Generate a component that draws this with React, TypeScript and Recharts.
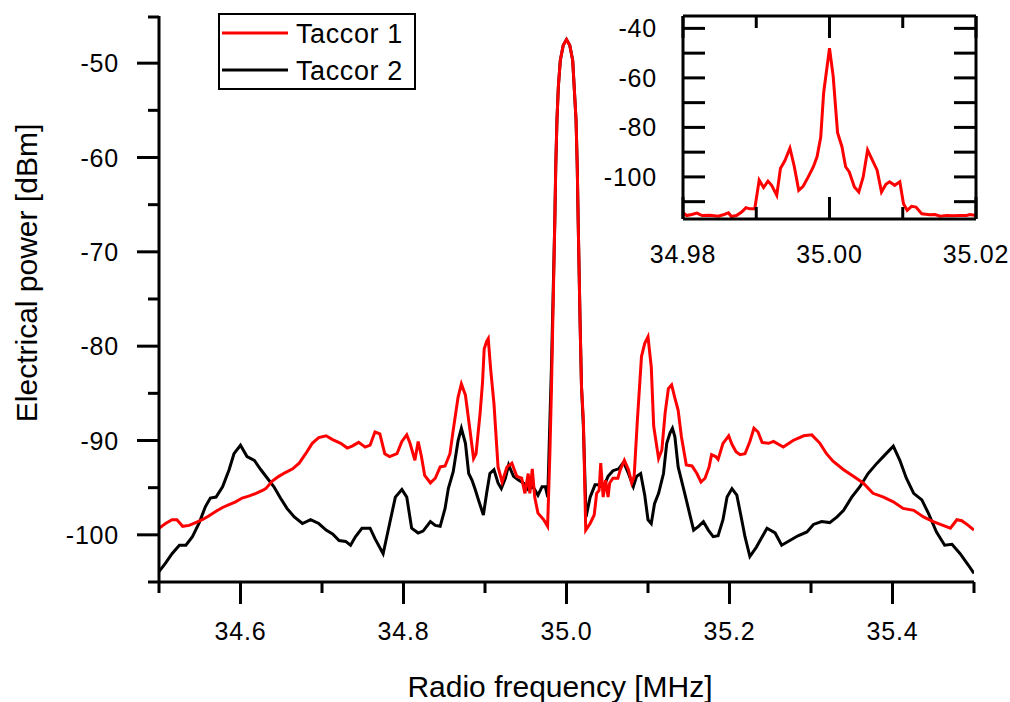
import React from 'react';
import { LineChart, Line, XAxis, YAxis, Legend } from 'recharts';

// Taccor 1 (red) and Taccor 2 (black), frequency in MHz, power in dBm
const taccor1Freq = [
  34.5, 34.508, 34.516, 34.522, 34.529, 34.537, 34.545, 34.553, 34.561, 34.57, 34.578, 34.586, 34.594,
  34.602, 34.61, 34.619, 34.627, 34.631, 34.639, 34.647, 34.655, 34.664, 34.672, 34.68, 34.688, 34.696,
  34.705, 34.713, 34.723, 34.731, 34.737, 34.745, 34.753, 34.759, 34.765, 34.771, 34.777, 34.783, 34.792,
  34.798, 34.804, 34.808, 34.814, 34.818, 34.822, 34.826, 34.833, 34.839, 34.845, 34.851, 34.857, 34.861,
  34.867, 34.871, 34.876, 34.882, 34.886, 34.889, 34.894, 34.897, 34.899, 34.902, 34.904, 34.907, 34.911,
  34.916, 34.921, 34.927, 34.933, 34.939, 34.945, 34.949, 34.953, 34.955, 34.958, 34.961, 34.965, 34.972,
  34.9768, 34.9796, 34.9816, 34.9857, 34.9868, 34.9883, 34.99, 34.9924, 34.996, 35.0, 35.004, 35.0076,
  35.0117, 35.0132, 35.0143, 35.0166, 35.0184, 35.0207, 35.0236, 35.029, 35.034, 35.037, 35.04, 35.042,
  35.045, 35.048, 35.051, 35.053, 35.057, 35.063, 35.066, 35.071, 35.076, 35.08, 35.083, 35.087, 35.092,
  35.096, 35.1, 35.104, 35.107, 35.113, 35.117, 35.121, 35.125, 35.129, 35.133, 35.137, 35.141, 35.147,
  35.154, 35.16, 35.165, 35.17, 35.175, 35.178, 35.183, 35.186, 35.192, 35.199, 35.203, 35.208, 35.213,
  35.219, 35.225, 35.23, 35.235, 35.24, 35.248, 35.254, 35.266, 35.278, 35.291, 35.301, 35.311, 35.319,
  35.327, 35.34, 35.352, 35.364, 35.376, 35.389, 35.401, 35.413, 35.426, 35.438, 35.45, 35.462, 35.471,
  35.479, 35.485, 35.493, 35.5,
];
const taccor1Power = [
  -99.3, -98.8, -98.4, -98.4, -99.1, -99.0, -98.7, -98.4, -98.0, -97.5, -97.1, -96.8, -96.5,
  -96.1, -95.9, -95.6, -95.3, -95.1, -94.3, -93.8, -93.4, -93.0, -92.4, -91.4, -90.3, -89.7,
  -89.5, -89.9, -90.3, -90.8, -90.6, -90.2, -90.7, -90.5, -89.1, -89.3, -91.4, -91.7, -91.4,
  -90.1, -89.4, -90.3, -92.1, -90.1, -91.7, -93.7, -94.5, -94.0, -92.8, -92.7, -91.4, -88.9,
  -85.4, -84.0, -85.2, -89.2, -91.9, -91.4, -87.1, -83.8, -80.3, -79.5, -79.2, -82.5, -86.1,
  -92.8, -94.4, -92.8, -92.4, -93.8, -94.0, -95.6, -93.5, -95.6, -93.0, -96.0, -97.7, -98.4,
  -99.1, -91.4, -84.3, -66.6, -61.0, -56.0, -52.5, -49.7, -48.1, -47.5, -48.1, -49.7,
  -56.0, -61.0, -66.6, -77.2, -84.3, -87.8, -99.5, -98.8, -97.9, -95.6, -95.3, -92.4,
  -96.0, -94.2, -96.0, -94.5, -94.0, -94.0, -93.1, -92.1, -93.1, -94.5, -93.8, -87.8, -81.1,
  -79.7, -79.0, -82.2, -88.5, -91.9, -91.0, -87.1, -84.5, -84.1, -85.5, -86.8, -89.6, -92.6,
  -92.7, -93.5, -94.4, -94.0, -92.8, -91.5, -91.7, -92.0, -90.3, -89.5, -90.4, -91.2, -91.5,
  -91.4, -90.1, -88.7, -89.1, -90.2, -90.3, -90.1, -90.7, -90.0, -89.5, -89.4, -90.3, -91.4,
  -92.2, -93.1, -93.8, -94.5, -95.6, -96.0, -96.5, -97.2, -97.4, -98.1, -98.6, -99.0, -99.3,
  -98.4, -98.5, -99.0, -99.5,
];

const taccor2Freq = [
  34.5, 34.508, 34.516, 34.525, 34.533, 34.541, 34.549, 34.557, 34.563, 34.57, 34.578, 34.586, 34.592,
  34.6, 34.608, 34.617, 34.625, 34.633, 34.641, 34.649, 34.657, 34.666, 34.676, 34.686, 34.696, 34.705,
  34.713, 34.721, 34.729, 34.735, 34.741, 34.749, 34.759, 34.765, 34.775, 34.783, 34.79, 34.798, 34.804,
  34.81, 34.818, 34.824, 34.833, 34.839, 34.845, 34.851, 34.855, 34.861, 34.867, 34.871, 34.876, 34.88,
  34.884, 34.888, 34.892, 34.898, 34.902, 34.906, 34.911, 34.916, 34.92, 34.925, 34.929, 34.935, 34.941,
  34.947, 34.953, 34.959, 34.965, 34.97, 34.974, 34.977, 34.9796, 34.9816, 34.9857, 34.9868, 34.9883,
  34.99, 34.9924, 34.996, 35.0, 35.004, 35.0076, 35.0117, 35.0132, 35.0143, 35.0166, 35.0184, 35.0207,
  35.024, 35.029, 35.035, 35.039, 35.045, 35.051, 35.057, 35.064, 35.07, 35.076, 35.082, 35.086, 35.091,
  35.096, 35.1, 35.104, 35.108, 35.113, 35.119, 35.123, 35.127, 35.13, 35.133, 35.137, 35.143, 35.147,
  35.152, 35.156, 35.162, 35.168, 35.174, 35.18, 35.186, 35.192, 35.197, 35.203, 35.209, 35.215, 35.219,
  35.225, 35.233, 35.246, 35.256, 35.264, 35.274, 35.284, 35.295, 35.303, 35.313, 35.323, 35.332, 35.34,
  35.35, 35.36, 35.37, 35.381, 35.391, 35.401, 35.409, 35.417, 35.426, 35.436, 35.444, 35.454, 35.464,
  35.473, 35.483, 35.493, 35.5,
];
const taccor2Power = [
  -103.9, -103.0, -102.0, -101.1, -101.1, -100.2, -98.8, -97.0, -96.1, -96.0, -94.9, -93.1, -91.4,
  -90.5, -91.7, -92.1, -93.1, -94.0, -94.9, -96.1, -97.2, -98.1, -98.8, -98.4, -98.8, -99.5,
  -99.9, -100.6, -100.7, -101.1, -100.2, -99.3, -99.3, -100.4, -102.0, -98.8, -96.0, -95.2, -96.0,
  -99.3, -99.8, -99.6, -98.6, -99.0, -99.1, -97.2, -95.1, -93.3, -90.0, -88.7, -90.3, -93.5,
  -94.2, -95.2, -96.3, -97.9, -95.6, -93.5, -93.1, -94.5, -95.1, -94.0, -92.6, -93.8, -94.2,
  -94.5, -95.2, -94.9, -95.8, -94.9, -94.9, -96.0, -88.0, -82.0, -66.6, -61.0, -56.0,
  -52.5, -49.7, -48.1, -47.5, -48.1, -49.7, -56.0, -61.0, -66.6, -77.2, -84.3, -88.5,
  -98.1, -96.0, -94.7, -94.7, -95.0, -93.8, -93.2, -93.0, -92.3, -93.5, -94.9, -93.8, -93.5,
  -95.8, -98.4, -98.8, -96.7, -95.6, -93.5, -90.3, -89.2, -88.7, -89.6, -92.8, -94.9, -96.3,
  -98.1, -99.5, -99.1, -98.6, -99.5, -100.2, -100.1, -98.4, -96.0, -95.1, -95.8, -98.4, -100.2,
  -102.3, -101.3, -99.3, -99.8, -101.1, -100.6, -100.1, -99.7, -98.9, -98.6, -98.7, -98.1, -97.4,
  -96.0, -94.9, -93.5, -92.4, -91.5, -90.6, -92.1, -94.0, -95.6, -96.3, -97.7, -99.7, -101.1,
  -101.0, -102.0, -103.2, -104.1,
];

// inset: Taccor 1 zoomed around the carrier
const insetFreq = [
  34.98, 34.9805, 34.9812, 34.9819, 34.9826, 34.9837, 34.9848, 34.9855, 34.9862, 34.9866, 34.9873, 34.988,
  34.9886, 34.9891, 34.9898, 34.9904, 34.991, 34.9916, 34.9921, 34.9928, 34.9933, 34.9939, 34.9946, 34.9952,
  34.9958, 34.9964, 34.9971, 34.9978, 34.9983, 34.9988, 34.9992, 35.0, 35.0005, 35.0011, 35.0017, 35.0022,
  35.0027, 35.0034, 35.004, 35.0046, 35.0052, 35.0058, 35.0065, 35.0071, 35.0077, 35.0082, 35.0089, 35.0096,
  35.0101, 35.0106, 35.0112, 35.0118, 35.0126, 35.0137, 35.0144, 35.0151, 35.016, 35.0169, 35.0178, 35.0187,
  35.0192, 35.02,
];
const insetPower = [
  -114.5, -115.6, -115.2, -114.6, -115.6, -115.5, -115.9, -115.3, -114.5, -116.0, -115.6, -114.2,
  -112.4, -112.9, -112.9, -101.3, -104.3, -101.7, -103.4, -107.4, -96.6, -93.5, -88.4, -95.9,
  -105.4, -103.8, -100.0, -95.9, -91.9, -84.0, -66.0, -48.0, -59.3, -82.1, -87.8, -95.9,
  -98.0, -104.1, -106.1, -100.0, -89.1, -92.9, -97.3, -106.1, -103.0, -102.0, -103.4, -102.0,
  -110.8, -113.5, -111.9, -112.2, -114.9, -115.3, -115.2, -115.9, -115.6, -115.7, -115.6, -115.6,
  -115.2, -115.6,
];

const mainTicksX = [34.5, 34.6, 34.7, 34.8, 34.9, 35.0, 35.1, 35.2, 35.3, 35.4, 35.5];
const mainTicksY = [-105, -100, -95, -90, -85, -80, -75, -70, -65, -60, -55, -50, -45];
const insetTicksX = [34.98, 34.99, 35.0, 35.01, 35.02];
const insetTicksY = [-110, -100, -90, -80, -70, -60, -50, -40];

const taccor1 = taccor1Freq.map((f, i) => ({ f, p: taccor1Power[i] }));
const taccor2 = taccor2Freq.map((f, i) => ({ f, p: taccor2Power[i] }));
const inset = insetFreq.map((f, i) => ({ f, p: insetPower[i] }));

const FONT = '"Liberation Sans", Arial, Helvetica, sans-serif';
const txt = { fontFamily: FONT, fontSize: 25, fill: '#000', letterSpacing: '0.8px' };
const legendTxt = { fontFamily: FONT, fontSize: 27, fill: '#000', letterSpacing: '0.6px' };
const title = { fontFamily: FONT, fontSize: 30, fill: '#000' };

// main plot area, chart coords (page = +8)
const W = 1002, H = 694;
const PL = 151, PT = 8, PR = 966, PB = 574;
const AX = 60; // axis band size

// inset chart placement
const IX = 592, IW = 410, IH = 290;
const IL = 83, IT = 8, IR = 376, IB = 211;

// page is exactly the chart: no body margin, no scrollbars
if (typeof document !== 'undefined') {
  document.documentElement.style.overflow = 'hidden';
  document.body.style.margin = '0';
}

const MainXTick = (props: any) => {
  const { x, payload } = props;
  const v = payload.value;
  const major = Math.round(v * 10) % 2 === 0;
  return (
    <g>
      <line x1={x} x2={x} y1={PB} y2={PB + (major ? 22 : 11)} stroke="#000" strokeWidth={3} />
      {major && <text x={x} y={PB + 58} textAnchor="middle" style={txt}>{v.toFixed(1)}</text>}
    </g>
  );
};

const MainYTick = (props: any) => {
  const { y, payload } = props;
  const v = payload.value;
  const major = v % 10 === 0;
  return (
    <g>
      <line x1={PL} x2={PL - (major ? 22 : 11)} y1={y} y2={y} stroke="#000" strokeWidth={3} />
      {major && <text x={PL - 40} y={y} dy="0.36em" textAnchor="end" style={txt}>{v}</text>}
    </g>
  );
};

const insetXTick = (side: 'bottom' | 'top') => (props: any) => {
  const { x, payload } = props;
  const v = payload.value;
  const major = Math.round(v * 100) % 2 === 0;
  const len = major ? 22 : 12;
  const y0 = side === 'bottom' ? IB : IT;
  const y1 = side === 'bottom' ? IB - len : IT + len;
  return (
    <g>
      <line x1={x} x2={x} y1={y0} y2={y1} stroke="#000" strokeWidth={3} />
      {side === 'bottom' && major && (
        <text x={x} y={IB + 44} textAnchor="middle" style={txt}>{v.toFixed(2)}</text>
      )}
    </g>
  );
};

const insetYTick = (side: 'left' | 'right') => (props: any) => {
  const { y, payload } = props;
  const v = payload.value;
  const x0 = side === 'left' ? IL : IR;
  const x1 = side === 'left' ? IL + 22 : IR - 22;
  return (
    <g>
      <line x1={x0} x2={x1} y1={y} y2={y} stroke="#000" strokeWidth={3} />
      {side === 'left' && v % 20 === 0 && (
        <text x={IL - 26} y={y} dy="0.36em" textAnchor="end" style={txt}>{v}</text>
      )}
    </g>
  );
};

const renderLegend = () => (
  <svg width={198} height={78} style={{ display: 'block' }}>
    <rect x={1} y={1} width={196} height={75} fill="#fff" stroke="#000" strokeWidth={2} />
    <line x1={4} x2={70} y1={20} y2={20} stroke="#ff0000" strokeWidth={3} />
    <text x={78} y={20} dy="0.36em" style={legendTxt}>Taccor 1</text>
    <line x1={4} x2={70} y1={57} y2={57} stroke="#000" strokeWidth={3} />
    <text x={78} y={57} dy="0.36em" style={legendTxt}>Taccor 2</text>
  </svg>
);

const axisLine = { stroke: '#000', strokeWidth: 3 };

export default function App() {
  return (
    <div style={{ position: 'relative', width: 1010, height: 702, padding: '8px 0 0 8px', boxSizing: 'border-box' }}>
      <LineChart width={W} height={H} margin={{ top: PT, left: PL - AX, right: W - PR, bottom: H - PB - AX }}>
        <XAxis
          dataKey="f"
          type="number"
          domain={[34.5, 35.5]}
          ticks={mainTicksX}
          height={AX}
          axisLine={axisLine}
          tickLine={false}
          tick={MainXTick}
          allowDataOverflow
        />
        <YAxis
          dataKey="p"
          type="number"
          domain={[-105, -45]}
          ticks={mainTicksY}
          width={AX}
          axisLine={axisLine}
          tickLine={false}
          tick={MainYTick}
          allowDataOverflow
        />
        <Legend
          layout="vertical"
          align="center"
          verticalAlign="middle"
          content={renderLegend}
          wrapperStyle={{ position: 'absolute', left: 210, top: 5, width: 198, height: 78 }}
        />
        <Line data={taccor2} dataKey="p" name="Taccor 2" type="linear" stroke="#000" strokeWidth={3} dot={false} isAnimationActive={false} />
        <Line data={taccor1} dataKey="p" name="Taccor 1" type="linear" stroke="#ff0000" strokeWidth={3} dot={false} isAnimationActive={false} />
        <text x={552} y={689} textAnchor="middle" style={title}>Radio frequency [MHz]</text>
        <text x={29} y={265} textAnchor="middle" transform="rotate(-90 29 265)" style={title}>Electrical power [dBm]</text>
      </LineChart>

      <div style={{ position: 'absolute', left: IX + 8, top: 8 }}>
        <LineChart width={IW} height={IH} data={inset} margin={{ top: 0, left: IL - AX, right: IW - IR - 30, bottom: IH - IB - AX }}>
          <XAxis xAxisId="b" dataKey="f" type="number" domain={[34.98, 35.02]} ticks={insetTicksX} height={AX}
            axisLine={axisLine} tickLine={false} tick={insetXTick('bottom')} allowDataOverflow />
          <XAxis xAxisId="t" orientation="top" dataKey="f" type="number" domain={[34.98, 35.02]} ticks={insetTicksX} height={IT}
            axisLine={axisLine} tickLine={false} tick={insetXTick('top')} allowDataOverflow />
          <YAxis yAxisId="l" dataKey="p" type="number" domain={[-117, -35]} ticks={insetTicksY} width={AX}
            axisLine={axisLine} tickLine={false} tick={insetYTick('left')} allowDataOverflow />
          <YAxis yAxisId="r" orientation="right" dataKey="p" type="number" domain={[-117, -35]} ticks={insetTicksY} width={30}
            axisLine={axisLine} tickLine={false} tick={insetYTick('right')} allowDataOverflow />
          <Line xAxisId="b" yAxisId="l" dataKey="p" type="linear" stroke="#ff0000" strokeWidth={3} dot={false} isAnimationActive={false} />
        </LineChart>
      </div>
    </div>
  );
}
